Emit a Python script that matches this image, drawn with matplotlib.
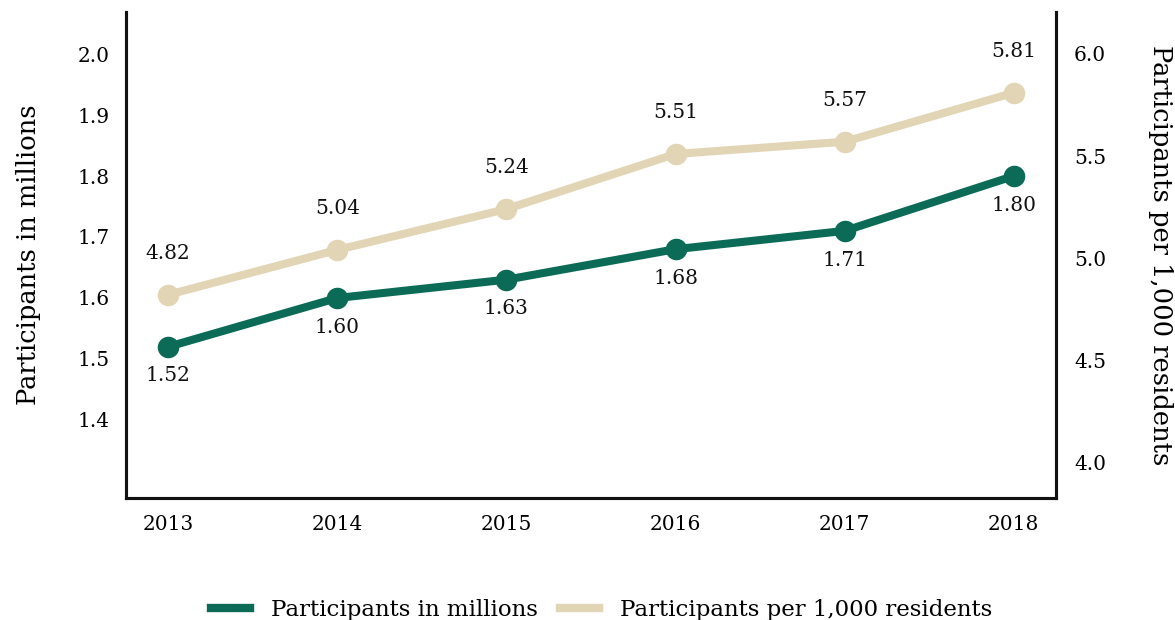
import matplotlib
matplotlib.use("Agg")
import matplotlib.pyplot as plt
from matplotlib.lines import Line2D

years = ["2013", "2014", "2015", "2016", "2017", "2018"]
millions = [1.52, 1.60, 1.63, 1.68, 1.71, 1.80]
per_1000 = [4.82, 5.04, 5.24, 5.51, 5.57, 5.81]
left_ticks = [1.4, 1.5, 1.6, 1.7, 1.8, 1.9, 2.0]
right_ticks = [4.0, 4.5, 5.0, 5.5, 6.0]

GREEN = "#0B6B57"
BEIGE = "#E2D5B5"
plt.rcParams['font.family'] = ['DejaVu Serif']

fig = plt.figure(figsize=(11.75, 6.2), dpi=100)
ax = fig.add_axes([0.1072, 0.1968, 0.7915, 0.7839])
ax2 = ax.twinx()

x = list(range(len(years)))
ax2.plot(x, per_1000, color=BEIGE, lw=5.8, marker='o', ms=14.5, solid_capstyle='round', zorder=2)
ax.plot(x, millions, color=GREEN, lw=5.8, marker='o', ms=14.5, solid_capstyle='round', zorder=3)
ax.set_zorder(ax2.get_zorder() + 1)
ax.patch.set_visible(False)

for xi, v in zip(x, millions):
    ax.annotate(f"{v:.2f}", (xi, v), xytext=(0, -21), textcoords='offset points',
                ha='center', va='center', fontsize=14.5, color='#111111')
for xi, v in zip(x, per_1000):
    ax2.annotate(f"{v:.2f}", (xi, v), xytext=(0, 30), textcoords='offset points',
                 ha='center', va='center', fontsize=14.5, color='#111111')

ax.set_xlim(-0.25, 5.25)
ax.set_ylim(1.272, 2.069)
ax2.set_ylim(3.824, 6.206)

ax.set_xticks(x)
ax.set_xticklabels(years, fontsize=14.5)
ax.set_yticks(left_ticks)
ax.set_yticklabels([f"{t:.1f}" for t in left_ticks], fontsize=14.5)
ax2.set_yticks(right_ticks)
ax2.set_yticklabels([f"{t:.1f}" for t in right_ticks], fontsize=14.5)

ax.tick_params(axis='x', length=0, pad=12)
ax.tick_params(axis='y', length=0, pad=12)
ax2.tick_params(axis='y', length=0, pad=13)

for a in (ax, ax2):
    a.spines['top'].set_visible(False)
    for s in ('left', 'right', 'bottom'):
        a.spines[s].set_linewidth(2.2)
        a.spines[s].set_color('#111111')

ax.set_ylabel("Participants in millions", fontsize=18.5, labelpad=26)
ax2.set_ylabel("Participants per 1,000 residents", fontsize=18.5, rotation=-90, labelpad=48)

handles = [Line2D([0], [0], color=GREEN, lw=6),
           Line2D([0], [0], color=BEIGE, lw=6)]
fig.legend(handles, ["Participants in millions", "Participants per 1,000 residents"],
           loc='lower center', bbox_to_anchor=(0.512, -0.035), ncol=2, frameon=False,
           fontsize=16.5, handlelength=1.7, handletextpad=0.9, columnspacing=1.0)

fig.savefig("out.png", dpi=100)
